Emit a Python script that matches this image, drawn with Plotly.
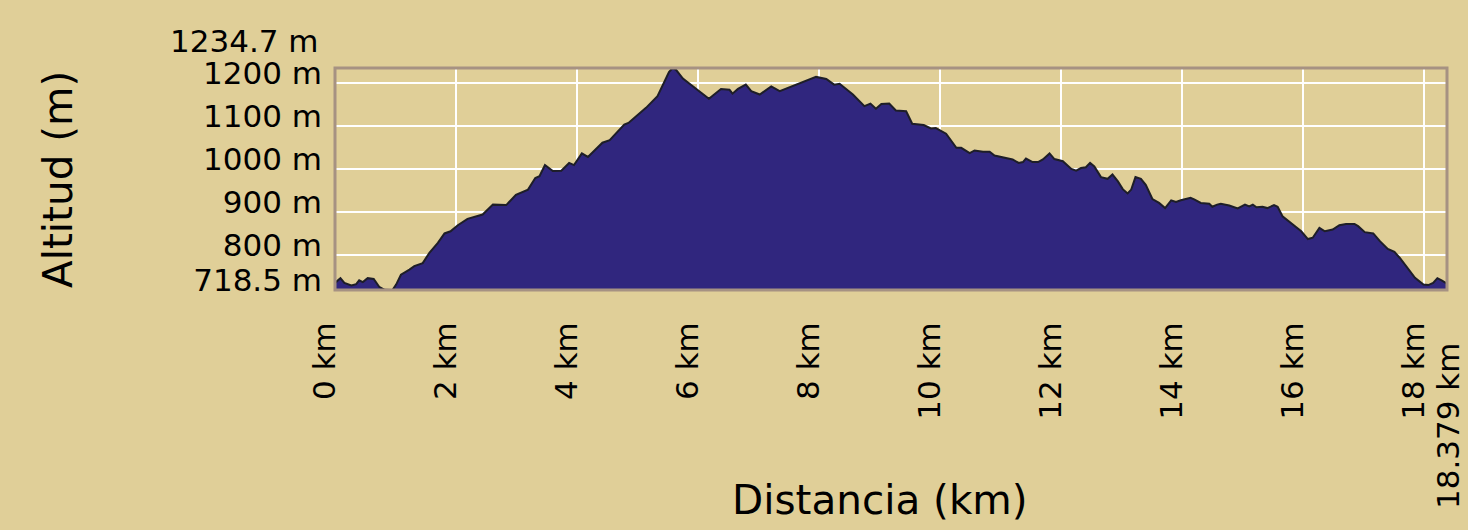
import plotly.graph_objects as go

# Elevation profile (distance in km, altitude in m)
dist_km = [0, 0.09, 0.155, 0.27, 0.35, 0.40, 0.46, 0.54, 0.64, 0.73, 0.82, 0.95, 1.01, 1.09,
           1.23, 1.31, 1.45, 1.56, 1.70, 1.81, 1.91, 2.03, 2.19, 2.44, 2.61, 2.83, 2.99, 3.19,
           3.31, 3.38, 3.47, 3.60, 3.74, 3.87, 3.95, 4.08, 4.18, 4.42, 4.54, 4.78, 4.85, 5.00,
           5.14, 5.33, 5.44, 5.52, 5.58, 5.64, 5.75, 5.89, 6.02, 6.18, 6.38, 6.52, 6.57, 6.66,
           6.79, 6.88, 7.02, 7.21, 7.35, 7.48, 7.68, 7.95, 8.12, 8.25, 8.34, 8.56, 8.75, 8.85,
           8.94, 9.03, 9.16, 9.27, 9.44, 9.54, 9.73, 9.85, 9.93, 10.10, 10.27, 10.35, 10.49,
           10.57, 10.71, 10.82, 10.90, 11.04, 11.20, 11.30, 11.37, 11.42, 11.53, 11.62, 11.70,
           11.81, 11.89, 12.03, 12.17, 12.25, 12.33, 12.41, 12.48, 12.55, 12.66, 12.77, 12.85,
           12.94, 13.02, 13.10, 13.16, 13.23, 13.32, 13.40, 13.51, 13.62, 13.72, 13.82, 13.90,
           13.98, 14.14, 14.20, 14.31, 14.45, 14.50, 14.58, 14.64, 14.78, 14.92, 15.04, 15.11,
           15.17, 15.23, 15.33, 15.41, 15.52, 15.58, 15.66, 15.80, 15.97, 16.08, 16.16, 16.27,
           16.36, 16.49, 16.60, 16.71, 16.85, 16.91, 17.02, 17.16, 17.27, 17.40, 17.51, 17.60,
           17.74, 17.85, 17.99, 18.07, 18.15, 18.22, 18.29, 18.379]
altitude_m = [735, 746, 735, 729, 732, 741, 737, 746, 744, 726, 719, 718.5, 731, 754,
              766, 774, 781, 805, 828, 850, 855, 869, 884, 894, 917, 916, 940, 952,
              979, 983, 1009, 995, 996, 1014, 1009, 1036, 1028, 1061, 1067, 1103, 1107, 1126,
              1142, 1169, 1200, 1225, 1234.7, 1230, 1210, 1195, 1181, 1163, 1186, 1184, 1175, 1186,
              1196, 1181, 1173, 1192, 1181, 1188, 1200, 1214, 1209, 1196, 1198, 1173, 1146, 1152,
              1140, 1151, 1152, 1136, 1134, 1105, 1102, 1094, 1095, 1082, 1049, 1049, 1037,
              1043, 1040, 1040, 1031, 1026, 1022, 1014, 1016, 1024, 1016, 1016, 1022,
              1036, 1023, 1018, 1000, 996, 1002, 1004, 1014, 1006, 981, 977, 987,
              971, 953, 943, 952, 981, 977, 963, 930, 921, 909, 927, 923,
              927, 933, 929, 921, 919, 912, 917, 919, 915, 908, 917, 913,
              917, 911, 912, 909, 916, 912, 890, 874, 855, 837, 840, 863,
              855, 859, 869, 872, 872, 867, 853, 850, 832, 814, 807, 793,
              766, 747, 731, 730, 735, 746, 741, 733]

x_tick_vals = [0, 2, 4, 6, 8, 10, 12, 14, 16, 18]
x_tick_text = ["0 km", "2 km", "4 km", "6 km", "8 km", "10 km", "12 km", "14 km", "16 km", "18 km"]
y_tick_vals = [718.5, 800, 900, 1000, 1100, 1200]
y_tick_text = ["718.5 m", "800 m", "900 m", "1000 m", "1100 m", "1200 m"]
x_max = 18.379
x_max_label = "18.379 km"
y_min = 718.5
y_max = 1234.7
y_max_label = "1234.7 m"

BG = "#e0cf98"
FONT = "DejaVu Sans"
TICK_SIZE = 31
TITLE_SIZE = 40.5

fig = go.Figure()
fig.add_trace(go.Scatter(
    x=dist_km, y=altitude_m, mode="lines",
    line=dict(color="#1e1e28", width=2),
    fill="tozeroy", fillcolor="#30267e",
    hoverinfo="x+y", showlegend=False,
))

fig.update_layout(
    width=1468, height=530,
    paper_bgcolor=BG, plot_bgcolor=BG,
    margin=dict(l=335, r=21, t=68, b=240),
    font=dict(family=FONT, size=TICK_SIZE, color="#000000"),
    xaxis=dict(
        range=[0, x_max], tickvals=x_tick_vals, ticktext=x_tick_text,
        tickangle=-90, showgrid=True, gridcolor="#ffffff", gridwidth=2,
        zeroline=False, ticks="", ticklabelstandoff=25, ticklabelshift=-10,
        tickfont=dict(family=FONT, size=TICK_SIZE),
    ),
    yaxis=dict(
        range=[y_min, y_max], tickvals=y_tick_vals, ticktext=y_tick_text,
        showgrid=True, gridcolor="#ffffff", gridwidth=2,
        zeroline=False, ticks="", ticklabelstandoff=12, ticklabelshift=-10,
        tickfont=dict(family=FONT, size=TICK_SIZE),
    ),
    shapes=[dict(type="rect", xref="paper", yref="paper", x0=0, x1=1, y0=0, y1=1,
                 line=dict(color="#a69282", width=3), layer="above")],
    annotations=[
        dict(text=y_max_label, xref="paper", x=0, xshift=-14, xanchor="right",
             yref="y", y=y_max, yanchor="middle", yshift=27, showarrow=False,
             font=dict(family=FONT, size=TICK_SIZE, color="#000000")),
        dict(text=x_max_label, xref="x", x=x_max, xshift=1, xanchor="center",
             yref="paper", y=0, yanchor="top", yshift=-51, textangle=-90, showarrow=False,
             font=dict(family=FONT, size=TICK_SIZE, color="#000000")),
        dict(text="Altitud (m)", xref="paper", x=-0.2491, xanchor="center",
             yref="paper", y=0.4955, yanchor="middle", textangle=-90, showarrow=False,
             font=dict(family=FONT, size=TITLE_SIZE, color="#000000")),
        dict(text="Distancia (km)", xref="paper", x=0.49, xanchor="center",
             yref="paper", y=-0.946, yanchor="middle", showarrow=False,
             font=dict(family=FONT, size=TITLE_SIZE, color="#000000")),
    ],
)

fig.write_html(
    "out.html",
    config={"displayModeBar": False},
    post_script="document.body.style.margin='0';document.body.style.padding='0';"
                "document.body.style.background='" + BG + "';"
                "document.documentElement.style.overflow='hidden';",
)
